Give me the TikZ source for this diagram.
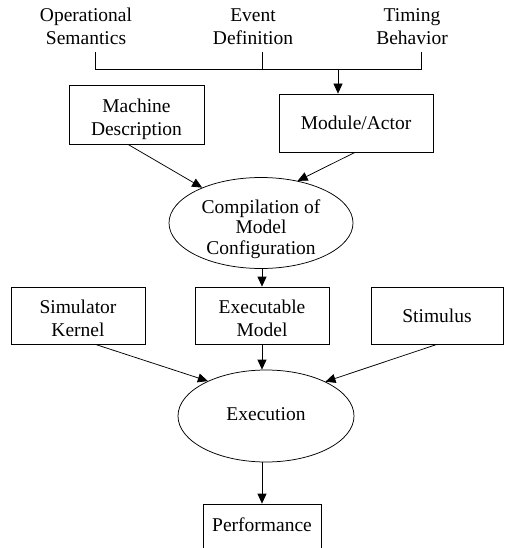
\documentclass[tikz,border=0pt]{standalone}
\usepackage{fontspec}
\setmainfont{Liberation Serif}
\usetikzlibrary{arrows.meta,shapes.geometric}
\newcommand\twol[2]{\rule{0pt}{23.5pt}#1\\#2\rule[-5pt]{0pt}{5pt}}
\newcommand\onel[1]{\rule[-5pt]{0pt}{24pt}#1}
\begin{document}
\begin{tikzpicture}[x=1pt,y=-1pt,
  every node/.style={font=\fontsize{19.5}{23}\selectfont, inner sep=0pt, align=center},
  conn/.style={line width=0.75pt},
  arr/.style={conn,-{Triangle[length=10pt,width=9pt]}},
  boxn/.style={draw,line width=0.75pt,rectangle},
  elln/.style={draw,line width=0.75pt,ellipse}]
\useasboundingbox (0,0) rectangle (504,548);
\clip (0,0) rectangle (504,548);
% top labels
\node (OS) at (86,24.25) {\twol{Operational}{Semantics}};
\node (EV) at (253,24.25) {\twol{Event}{Definition}};
\node (TB) at (412,24.25) {\twol{Timing}{Behavior}};
\coordinate (t1) at (95,52);
\coordinate (t2) at (262,52);
\coordinate (t3) at (421,52);
\coordinate (b1) at (95,69);
\coordinate (b2) at (262,69);
\coordinate (b3) at (421,69);
\coordinate (j) at (338,69);
% boxes
\node[boxn, minimum width=135pt, minimum height=59pt] (MD) at (136.5,114.5) {\twol{Machine}{Description}};
\node[boxn, minimum width=154pt, minimum height=58pt] (MA) at (356,123) {\onel{Module/Actor}};
\node[elln, minimum width=184pt, minimum height=91pt, inner ysep=-8pt, font=\fontsize{19.5}{20.5}\selectfont] (Comp) at (261,223)
  {\rule{0pt}{26pt}Compilation of\\Model\\Configuration\rule[-5pt]{0pt}{5pt}};
\node[boxn, minimum width=134pt, minimum height=57pt] (SK) at (78,315.5) {\twol{Simulator}{Kernel}};
\node[boxn, minimum width=134pt, minimum height=57pt] (EM) at (262,315.5) {\twol{Executable}{Model}};
\node[boxn, minimum width=132pt, minimum height=57pt] (ST) at (437,315.5) {\onel{Stimulus}};
\node[elln, minimum width=176pt, minimum height=92pt] (Exec) at (266,416) {\rule[-8pt]{0pt}{24pt}Execution};
\node[boxn, minimum width=118pt, minimum height=66pt] (Perf) at (262,537) {\rule[-30pt]{0pt}{49pt}Performance};
% connectors
\draw[conn] (t1) -- (b1) -- (b3) -- (t3);
\draw[conn] (t2) -- (b2);
\draw[arr] (j) -- (j |- MA.north);
\draw[arr] (MD.-106) -- (Comp.149);
\draw[arr] (MA.-92) -- (Comp.49);
\draw[arr] (EM.north |- Comp.south) -- (EM.north);
\draw[arr] (SK.-59) -- (Exec.149);
\draw[arr] (EM.south) -- (EM.south |- Exec.north);
\draw[arr] (ST.south) -- (Exec.30);
\draw[arr] (Perf.north |- Exec.south) -- (Perf.north);
\end{tikzpicture}
\end{document}
